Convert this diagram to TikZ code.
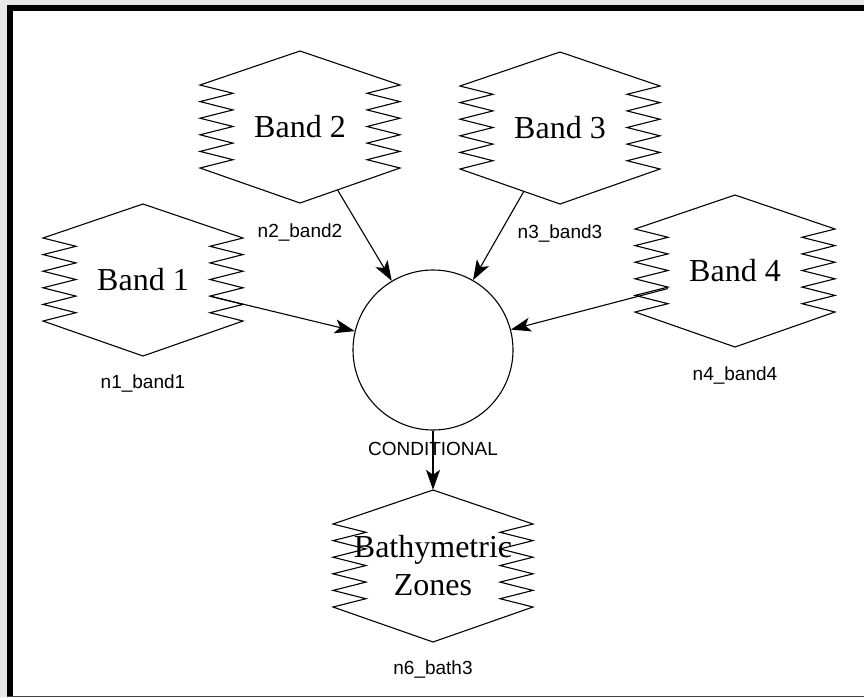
\documentclass[tikz,border=0pt]{standalone}
\usepackage{fontspec}
\setmainfont{Liberation Serif}
\newfontfamily\labelfont{Liberation Sans}
\usetikzlibrary{arrows.meta}

\begin{document}
\begin{tikzpicture}[x=1pt,y=-1pt,
  outline/.style={line width=1.1pt},
  edge/.style={line width=1.1pt,-{Stealth[length=20pt,width=14pt,inset=5pt]}},
  bandtext/.style={font=\fontsize{32}{38}\selectfont, minimum width=134pt,
    minimum height=126pt, inner sep=0pt, align=center},
  idlabel/.style={font=\labelfont\fontsize{19}{22}\selectfont, inner sep=0pt},
  % raster band symbol: pointed top and bottom, zigzag sides
  zigbox/.pic={
    \draw[outline] (0,-76) -- (100,-42)
      \foreach \k in {0,...,4} { -- (67,{-42+16.6*\k+8.3}) -- (100,{-42+16.6*(\k+1)}) }
      -- (0,76) -- (-100,41)
      \foreach \k in {0,...,4} { -- (-67,{41-16.6*\k-8.3}) -- (-100,{41-16.6*(\k+1)}) }
      -- cycle;
  }
]
\useasboundingbox (0,0) rectangle (864,697);

% window frame
\fill[black!9] (0,0) rectangle (864,697);
\fill[white] (7,5) rectangle (864,696);
\fill[black] (7,5) rectangle (864,11);
\fill[black] (7,5) rectangle (13,696);
\fill[black!75] (7,696) rectangle (864,697);

% band outlines
\pic at (143,280) {zigbox};
\pic at (300,127) {zigbox};
\pic at (560,128) {zigbox};
\pic at (735,271) {zigbox};
\pic at (433,566) {zigbox};

% band names
\node[bandtext] (b1) at (143,280) {Band 1};
\node[bandtext] (b2) at (300,127) {Band 2};
\node[bandtext] (b3) at (560,128) {Band 3};
\node[bandtext] (b4) at (735,271) {Band 4};
\node[bandtext, minimum height=152pt] (bath) at (433,566) {Bathymetric\\Zones};

% conditional operator
\node[circle, draw, line width=1.1pt, minimum size=160pt, inner sep=0pt] (cond) at (433,350) {};

% identifiers
\node[idlabel] (l1) at (143,383) {n1\_band1};
\node[idlabel] (l2) at (300,232) {n2\_band2};
\node[idlabel] (l3) at (560,233) {n3\_band3};
\node[idlabel] (l4) at (735,375) {n4\_band4};
\node[idlabel] (l6) at (433,669) {n6\_bath3};

% connectors
\draw[edge] (b1) -- (cond);
\draw[edge] (b2) -- (cond);
\draw[edge] (b3) -- (cond);
\draw[edge] (b4) -- (cond);
\draw[edge] (cond) -- (bath);
\node[idlabel] (lc) at (433,449) {CONDITIONAL};
\end{tikzpicture}
\end{document}
